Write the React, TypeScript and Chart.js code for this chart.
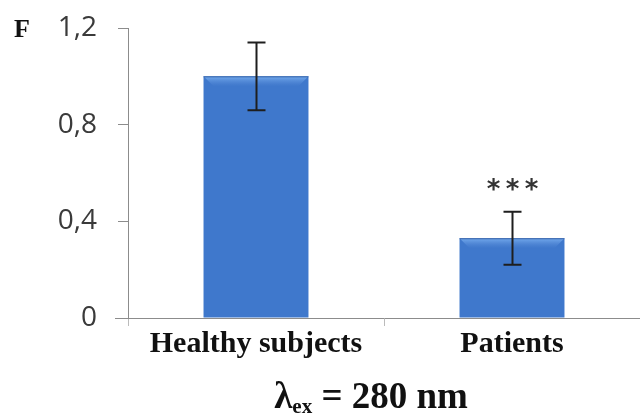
import React, { useEffect, useRef } from "react";
import { Chart, registerables } from "chart.js";

Chart.register(...registerables);

const categories = ["Healthy subjects", "Patients"];
const means = [1.0, 0.33];
const errors = [0.14, 0.11];
const significance = ["", "***"];
const yMin = 0;
const yMax = 1.2;
const yStep = 0.4;
const yAxisLabel = "F";

const barGradient = (ctx: any) => {
  const chart = ctx.chart;
  const el = chart.getDatasetMeta(0).data[ctx.dataIndex] as any;
  if (!el || !chart.chartArea) return "#3f78cc";
  const w = el.width;
  const cx = el.x;
  if (!Number.isFinite(w) || !Number.isFinite(cx) || w <= 0) return "#3f78cc";
  const x0 = cx - w / 2;
  const g = chart.ctx.createLinearGradient(x0, 0, x0 + w, 0);
  g.addColorStop(0, "#2b5ca8");
  g.addColorStop(0.06, "#3a72c4");
  g.addColorStop(0.5, "#427dd0");
  g.addColorStop(0.94, "#3a72c4");
  g.addColorStop(1, "#2a58a0");
  return g;
};

const extrasPlugin = {
  id: "extras",
  afterDatasetsDraw(chart: any) {
    const { ctx } = chart;
    const y = chart.scales.y;
    const meta = chart.getDatasetMeta(0);
    ctx.save();
    // top bevel highlight
    meta.data.forEach((el: any) => {
      const w = el.width;
      const x0 = el.x - w / 2;
      const top = el.y;
      const g = ctx.createLinearGradient(0, top, 0, top + 10);
      g.addColorStop(0, "rgba(120,175,240,0.95)");
      g.addColorStop(1, "rgba(90,140,215,0)");
      ctx.fillStyle = g;
      ctx.beginPath();
      ctx.moveTo(x0, top);
      ctx.lineTo(x0 + w, top);
      ctx.lineTo(x0 + w - 10, top + 10);
      ctx.lineTo(x0 + 10, top + 10);
      ctx.closePath();
      ctx.fill();
      ctx.strokeStyle = "rgba(40,80,150,0.8)";
      ctx.lineWidth = 1;
      ctx.beginPath();
      ctx.moveTo(x0, top + 0.5);
      ctx.lineTo(x0 + w, top + 0.5);
      ctx.stroke();
    });
    // error bars
    ctx.strokeStyle = "#1e1e1e";
    ctx.lineWidth = 2;
    meta.data.forEach((el: any, i: number) => {
      const yt = y.getPixelForValue(means[i] + errors[i]);
      const yb = y.getPixelForValue(means[i] - errors[i]);
      const x = Math.round(el.x) + 0.5;
      ctx.beginPath();
      ctx.moveTo(x, yt);
      ctx.lineTo(x, yb);
      ctx.moveTo(x - 9, yt);
      ctx.lineTo(x + 9, yt);
      ctx.moveTo(x - 9, yb);
      ctx.lineTo(x + 9, yb);
      ctx.stroke();
      if (significance[i]) {
        ctx.fillStyle = "#333";
        ctx.font = "bold 26px 'DejaVu Sans'";
        ctx.textAlign = "center";
        ctx.textBaseline = "middle";
        const n = significance[i].length;
        for (let k = 0; k < n; k++) {
          ctx.fillText("*", x + (k - (n - 1) / 2) * 19, yt - 20);
        }
      }
    });
    // axis extension
    const x = chart.scales.x;
    ctx.strokeStyle = "#8c8c8c";
    ctx.lineWidth = 1;
    ctx.beginPath();
    ctx.moveTo(x.left - 13, y.bottom + 0.5);
    ctx.lineTo(x.left, y.bottom + 0.5);
    ctx.stroke();
    // F label
    ctx.fillStyle = "#111";
    ctx.font = "bold 26px 'Liberation Serif'";
    ctx.textAlign = "left";
    ctx.textBaseline = "alphabetic";
    ctx.fillText(yAxisLabel, 14, y.top + 9);
    // bottom title
    const cx = 371;
    const base = 408;
    const big = "bold 37px 'Liberation Serif'";
    const small = "bold 21px 'Liberation Serif'";
    const p1 = "\u03bb";
    const p2 = "ex";
    const p3 = " = 280 nm";
    ctx.font = big;
    const w1 = ctx.measureText(p1).width;
    const w3 = ctx.measureText(p3).width;
    ctx.font = small;
    const w2 = ctx.measureText(p2).width;
    let sx = cx - (w1 + w2 + w3) / 2;
    ctx.font = big;
    ctx.fillText(p1, sx, base);
    sx += w1;
    ctx.font = small;
    ctx.fillText(p2, sx, base + 5);
    sx += w2;
    ctx.font = big;
    ctx.fillText(p3, sx, base);
    ctx.restore();
  },
};

export default function App() {
  const ref = useRef<HTMLCanvasElement | null>(null);
  useEffect(() => {
    document.body.style.margin = "0";
    const canvas = ref.current!;
    const chart = new Chart(canvas, {
      type: "bar",
      data: {
        labels: categories,
        datasets: [
          {
            data: means,
            backgroundColor: barGradient as any,
            borderWidth: 0,
            barPercentage: 0.41,
            categoryPercentage: 1,
          },
        ],
      },
      options: {
        responsive: false,
        animation: false,
        devicePixelRatio: 1,
        layout: { padding: { top: 28, left: 0, right: 0, bottom: 0 } },
        plugins: { legend: { display: false }, tooltip: { enabled: false } },
        scales: {
          y: {
            min: yMin,
            max: yMax,
            afterFit: (s: any) => {
              s.width = 128;
              s.paddingTop = 0;
              s.paddingBottom = 0;
            },
            ticks: {
              stepSize: yStep,
              padding: 21,
              color: "#3a3a3a",
              font: { family: "'Open Sans'", size: 28 },
              callback: (v: any) => (Number(v) === 0 ? "0" : Number(v).toFixed(1).replace(".", ",")),
            },
            grid: { drawOnChartArea: false, drawTicks: true, tickLength: 10, color: "#8c8c8c" },
            border: { display: true, color: "#8c8c8c", width: 1 },
          },
          x: {
            afterFit: (s: any) => {
              s.height = 96;
              s.paddingLeft = 0;
              s.paddingRight = 0;
            },
            ticks: {
              padding: 0,
              color: "#111",
              font: { family: "'Liberation Serif'", size: 30, weight: "bold" },
            },
            grid: { offset: true, drawOnChartArea: false, drawTicks: true, tickLength: 8, color: "#bbbbbb" },
            border: { display: true, color: "#8c8c8c", width: 1 },
          },
        },
      },
      plugins: [extrasPlugin],
    });
    return () => chart.destroy();
  }, []);
  return (
    <div style={{ width: 640, height: 414, background: "#fff" }}>
      <canvas ref={ref} width={640} height={414} style={{ display: "block" }} />
    </div>
  );
}
